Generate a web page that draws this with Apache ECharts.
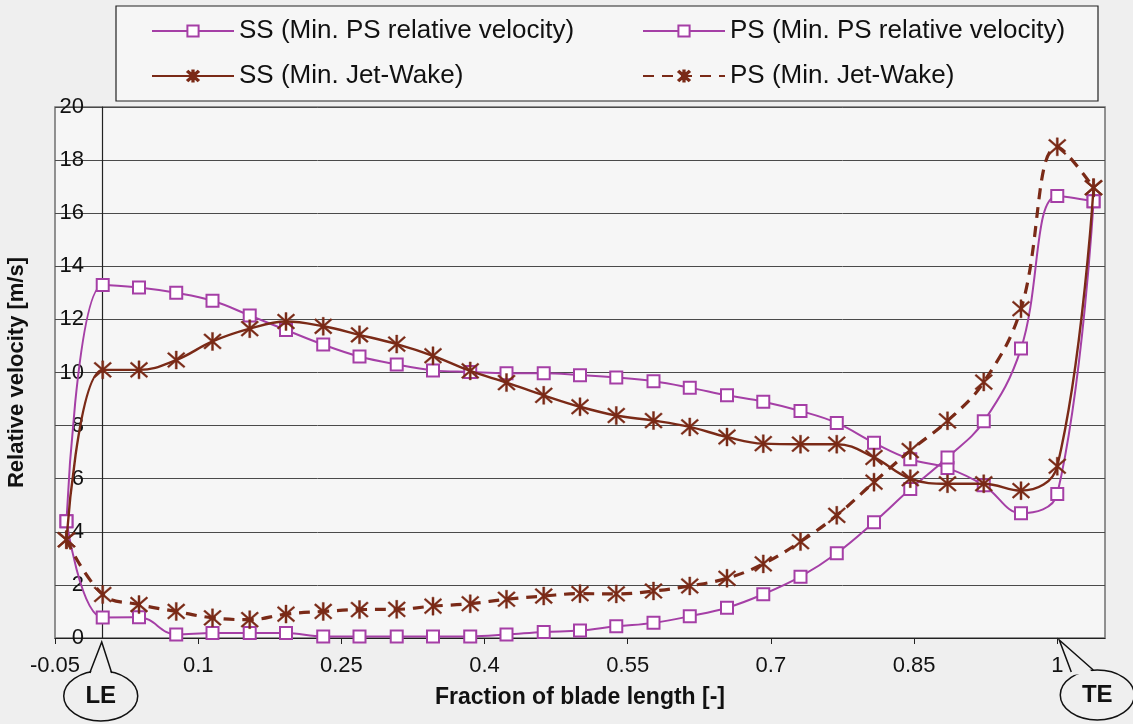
<!DOCTYPE html>
<html>
<head>
<meta charset="utf-8">
<script src="https://cdn.jsdelivr.net/npm/echarts@6/dist/echarts.min.js"></script>
<style>
  html, body { margin: 0; padding: 0; background: #efefef; }
  #chart { width: 1133px; height: 724px; }
</style>
</head>
<body>
<div id="chart"></div>
<script>
// Measurement stations along the blade (fraction of blade length, LE = 0, TE = 1)
const fraction = [-0.038, 0, 0.038, 0.077, 0.115, 0.154, 0.192, 0.231, 0.269, 0.308,
  0.346, 0.385, 0.423, 0.462, 0.5, 0.538, 0.577, 0.615, 0.654, 0.692,
  0.731, 0.769, 0.808, 0.846, 0.885, 0.923, 0.962, 1.0, 1.038];

// Relative velocity [m/s] – operating point with minimum PS relative velocity
const ssMinPsVel = [4.4, 13.3, 13.2, 13.0, 12.7, 12.15, 11.6, 11.05, 10.6, 10.3,
  10.08, 10.02, 9.97, 9.97, 9.9, 9.81, 9.67, 9.43, 9.14, 8.9,
  8.55, 8.1, 7.35, 6.73, 6.4, 5.75, 4.7, 5.42, 16.45];
const psMinPsVel = [4.4, 0.77, 0.78, 0.13, 0.19, 0.19, 0.19, 0.06, 0.06, 0.06,
  0.06, 0.06, 0.13, 0.23, 0.28, 0.44, 0.57, 0.82, 1.14, 1.65,
  2.31, 3.19, 4.36, 5.61, 6.8, 8.16, 10.9, 16.65, 16.45];

// Relative velocity [m/s] – operating point with minimum jet-wake
const ssMinJetWake = [3.7, 10.1, 10.1, 10.47, 11.17, 11.65, 11.92, 11.74, 11.42, 11.07,
  10.63, 10.06, 9.62, 9.14, 8.71, 8.38, 8.19, 7.95, 7.57, 7.32,
  7.3, 7.3, 6.8, 6.0, 5.81, 5.81, 5.55, 6.47, 16.96];
const psMinJetWake = [3.7, 1.64, 1.26, 1.0, 0.76, 0.69, 0.9, 1.0, 1.07, 1.08,
  1.2, 1.29, 1.46, 1.58, 1.67, 1.66, 1.77, 1.96, 2.25, 2.79,
  3.63, 4.62, 5.87, 7.06, 8.18, 9.64, 12.4, 18.5, 16.96];

const seriesNames = [
  'SS (Min. PS relative velocity)',
  'PS (Min. PS relative velocity)',
  'SS (Min. Jet-Wake)',
  'PS (Min. Jet-Wake)'
];

const xTickValues = [-0.05, 0.1, 0.25, 0.4, 0.55, 0.7, 0.85, 1];
const xRange = [-0.05, 1.05];
const yRange = [0, 20];
const yStep = 2;

const FONT = '"Liberation Sans", Arial, sans-serif';
const PURPLE = '#a53fa6';
const BROWN = '#7a2a17';
const BG = '#efefef';

// asterisk marker: vertical bar plus two diagonals
const ASTERISK = 'path://M9 0L11 0L11 20L9 20Z M1.3 2.7L2.7 1.3L18.7 17.3L17.3 18.7Z M17.3 1.3L18.7 2.7L2.7 18.7L1.3 17.3Z';

const pairs = vals => fraction.map((x, i) => [x, vals[i]]);

function squareSeries(name, vals) {
  return {
    name, type: 'line', data: pairs(vals), smooth: 0.4,
    symbol: 'emptyRect', symbolSize: 12,
    lineStyle: { color: PURPLE, width: 2 },
    itemStyle: { color: PURPLE, borderColor: PURPLE, borderWidth: 1.8 },
    emphasis: { disabled: true }, z: 3
  };
}
function starSeries(name, vals, dashed) {
  return {
    name, type: 'line', data: pairs(vals), smooth: 0.4,
    symbol: ASTERISK, symbolSize: 18,
    lineStyle: { color: BROWN, width: dashed ? 3.2 : 2.4, type: dashed ? [11, 8] : 'solid' },
    itemStyle: { color: BROWN, borderColor: BROWN, borderWidth: 0.4 },
    emphasis: { disabled: true }, z: 4
  };
}

const legendText = { fontFamily: FONT, fontSize: 26, color: '#111', lineHeight: 30 };

const chart = echarts.init(document.getElementById('chart'), null, { renderer: 'canvas' });

chart.setOption({
  backgroundColor: BG,
  animation: false,
  grid: {
    left: 55, right: 28, top: 107, bottom: 86,
    outerBoundsMode: 'none', containLabel: false,
    show: true, backgroundColor: '#f6f6f6', borderColor: '#707070', borderWidth: 1.5
  },
  legend: [
    {
      left: 146, top: 11, orient: 'vertical', itemGap: 15,
      itemWidth: 82, itemHeight: 14,
      data: [seriesNames[0], seriesNames[2]],
      textStyle: legendText, selectedMode: false
    },
    {
      left: 637, top: 11, orient: 'vertical', itemGap: 15,
      itemWidth: 82, itemHeight: 14,
      data: [seriesNames[1], seriesNames[3]],
      textStyle: legendText, selectedMode: false
    }
  ],
  xAxis: {
    type: 'value', min: xRange[0], max: xRange[1],
    name: 'Fraction of blade length [-]', nameLocation: 'middle', nameGap: 48,
    nameMoveOverlap: false,
    nameTextStyle: { fontFamily: FONT, fontSize: 23, fontWeight: 'bold', color: '#111' },
    axisLine: { show: true, lineStyle: { color: '#222', width: 1.2 } },
    axisTick: { show: true, length: 6, customValues: xTickValues, lineStyle: { color: '#222' } },
    axisLabel: {
      customValues: xTickValues, margin: 17,
      fontFamily: FONT, fontSize: 22, color: '#111',
      formatter: v => String(Number(v.toFixed(2)))
    },
    splitLine: { show: false }
  },
  yAxis: {
    type: 'value', min: yRange[0], max: yRange[1], interval: yStep,
    name: 'Relative velocity [m/s]', nameLocation: 'middle', nameGap: 27,
    nameMoveOverlap: false,
    nameTextStyle: { fontFamily: FONT, fontSize: 22, fontWeight: 'bold', color: '#111' },
    axisLine: { show: true, onZero: true, lineStyle: { color: '#222', width: 1.2 } },
    axisTick: { show: false },
    // tick labels sit just left of the x = 0 axis line, inside the frame
    axisLabel: { margin: -29, fontFamily: FONT, fontSize: 22, color: '#111' },
    splitLine: { show: true, lineStyle: { color: '#4a4a4a', width: 1 } }
  },
  series: [
    squareSeries(seriesNames[0], ssMinPsVel),
    squareSeries(seriesNames[1], psMinPsVel),
    starSeries(seriesNames[2], ssMinJetWake, false),
    starSeries(seriesNames[3], psMinJetWake, true)
  ]
});

// Legend frame and the LE / TE callouts anchored to the blade edges on the x axis
function callout(tip, cx, cy, baseL, baseR, label) {
  return [
    {
      type: 'ellipse', shape: { cx, cy, rx: 37, ry: 25 },
      style: { fill: BG, stroke: '#111', lineWidth: 1.5 }, z: 10
    },
    {
      type: 'polygon', shape: { points: [[baseL[0], baseL[1] + 3], tip, [baseR[0], baseR[1] + 3]] },
      style: { fill: BG, stroke: null }, z: 11
    },
    {
      type: 'polyline', shape: { points: [baseL, tip, baseR] },
      style: { fill: null, stroke: '#111', lineWidth: 1.5 }, z: 12
    },
    {
      type: 'text', x: cx, y: cy,
      style: { text: label, fontFamily: FONT, fontSize: 24, fontWeight: 'bold', fill: '#111', align: 'center', verticalAlign: 'middle' },
      z: 13
    }
  ];
}

const le = chart.convertToPixel({ xAxisIndex: 0, yAxisIndex: 0 }, [0, 0]);
const te = chart.convertToPixel({ xAxisIndex: 0, yAxisIndex: 0 }, [1, 0]);

chart.setOption({
  graphic: [
    {
      type: 'rect', shape: { x: 116, y: 6, width: 982, height: 95 },
      style: { fill: '#f6f6f6', stroke: '#222', lineWidth: 1.2 }, z: 0
    },
    ...callout([le[0] - 1, le[1] + 4], le[0] - 2, le[1] + 58, [le[0] - 13, le[1] + 35], [le[0] + 9, le[1] + 35], 'LE'),
    ...callout([te[0] + 2, te[1] + 2], te[0] + 40, te[1] + 57, [te[0] + 14, te[1] + 34], [te[0] + 36, te[1] + 32], 'TE')
  ]
});
</script>
</body>
</html>
